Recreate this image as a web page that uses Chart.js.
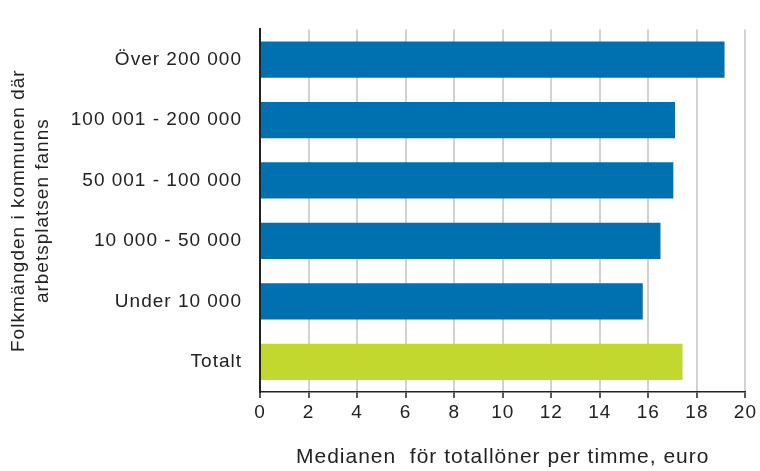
<!DOCTYPE html>
<html>
<head>
<meta charset="utf-8">
<script src="https://cdn.jsdelivr.net/npm/chart.js@4/dist/chart.umd.min.js"></script>
<style>
  html, body { margin: 0; padding: 0; background: #fff; }
  #wrap { width: 760px; height: 471px; }
</style>
</head>
<body>
<div id="wrap"><canvas id="chart"></canvas></div>
<script>
const categories = [
    'Över 200 000',
    '100 001 - 200 000',
    '50 001 - 100 000',
    '10 000 - 50 000',
    'Under 10 000',
    'Totalt'
];
const medianValues = [19.14, 17.1, 17.03, 16.5, 15.77, 17.41];
const barColors = ['#0071b0', '#0071b0', '#0071b0', '#0071b0', '#0071b0', '#c2d82e'];
const xTicks = [0, 2, 4, 6, 8, 10, 12, 14, 16, 18, 20];

// the original text is a bit wider than plain Arial metrics
const spacing = {
    id: 'spacing',
    beforeUpdate(chart) { chart.ctx.letterSpacing = '1px'; },
    beforeDraw(chart) { chart.ctx.letterSpacing = '1px'; }
};

const data = {
    labels: categories,
    datasets: [{
            label: 'Medianen för totallöner per timme, euro',
            data: medianValues,
            backgroundColor: barColors,
            borderWidth: 0,
            barPercentage: 0.6,
            categoryPercentage: 1.0
        }]
};

const config = {
    type: 'bar',
    data: data,
    plugins: [spacing],
    options: {
        indexAxis: 'y',
        responsive: true,
        maintainAspectRatio: false,
        animation: false,
        layout: {padding: {top: 12, right: 12, left: 0, bottom: 0}},
        plugins: {legend: {display: false}, tooltip: {enabled: false}},
        scales: {
            x: {
                min: 0,
                max: 20,
                afterBuildTicks: (axis) => { axis.ticks = xTicks.map(v => ({value: v})); },
                afterFit: (axis) => { axis.height = 79; },
                border: {display: true, color: '#222', width: 1.5},
                grid: {
                    color: '#d2d2d2',
                    lineWidth: 2,
                    drawTicks: true,
                    tickLength: 6,
                    tickColor: '#222',
                    tickWidth: 1.5
                },
                ticks: {color: '#222', font: {family: 'Liberation Sans', size: 19}, padding: 3, maxRotation: 0},
                title: {
                    display: true,
                    text: 'Medianen  för totallöner per timme, euro',
                    color: '#222',
                    font: {family: 'Liberation Sans', size: 21},
                    padding: {top: 0, bottom: 1}
                }
            },
            y: {
                afterFit: (axis) => { axis.width = 260; },
                border: {display: true, color: '#222', width: 2},
                grid: {display: false, drawTicks: false},
                ticks: {color: '#222', font: {family: 'Liberation Sans', size: 19}, padding: 18},
                title: {
                    display: true,
                    text: ['Folkmängden i kommunen där', 'arbetsplatsen fanns'],
                    color: '#222',
                    font: {family: 'Liberation Sans', size: 19, lineHeight: 1.3},
                    padding: {top: 6, bottom: 0}
                }
            }
        }
    }
};
let ctx = document.getElementById('chart').getContext('2d')
new Chart(ctx, config)
</script>
</body>
</html>
